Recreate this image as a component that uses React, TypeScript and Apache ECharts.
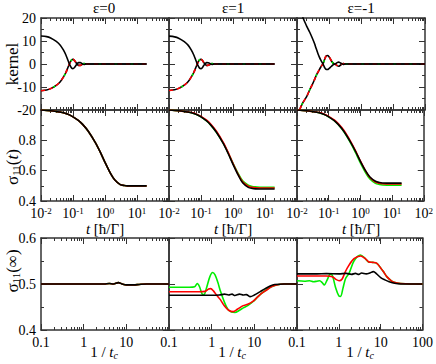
import React, { useEffect, useRef } from "react";
import * as echarts from "echarts";

// ---------- texts ----------
const columnTitles = ["ε=0", "ε=1", "ε=-1"];

// ---------- top row: kernel vs t ----------
const tKernel = [0.01, 0.015, 0.02, 0.03, 0.04, 0.05, 0.06, 0.07, 0.08, 0.09, 0.1, 0.11, 0.12, 0.135, 0.15, 0.17, 0.19, 0.22, 0.26, 0.3, 0.5, 1, 2, 5, 10, 20];
const kernelUpperE0 = [12.2, 11.9, 11.3, 9.8, 8.2, 6.1, 3.9, 1.5, -0.5, -1.7, -2.0, -1.6, -0.9, 0.1, 0.6, 0.6, 0.2, -0.2, 0, 0, 0, 0, 0, 0, 0, 0];
const kernelLowerE0 = [-11.6, -11.3, -10.7, -9.3, -7.7, -5.7, -3.7, -1.4, 0.5, 1.7, 2.0, 1.6, 0.9, -0.1, -0.6, -0.6, -0.2, 0.2, 0, 0, 0, 0, 0, 0, 0, 0];
const kernelUpperE1 = [12.1, 11.8, 11.2, 9.7, 8.1, 6.0, 3.8, 1.4, -0.6, -1.8, -2.0, -1.6, -0.8, 0.1, 0.6, 0.5, 0.2, -0.2, 0, 0, 0, 0, 0, 0, 0, 0];
const kernelLowerE1 = [-11.5, -11.2, -10.6, -9.2, -7.6, -5.6, -3.6, -1.3, 0.6, 1.8, 2.0, 1.6, 0.8, -0.1, -0.6, -0.5, -0.2, 0.2, 0, 0, 0, 0, 0, 0, 0, 0];
const tKernelM1 = [0.01, 0.012, 0.015, 0.02, 0.025, 0.03, 0.035, 0.04, 0.045, 0.05, 0.055, 0.06, 0.065, 0.07, 0.075, 0.08, 0.09, 0.1, 0.11, 0.12, 0.13, 0.14, 0.155, 0.18, 0.2, 0.22, 0.25, 0.28, 0.32, 0.4, 0.5, 1, 2, 5, 10, 20, 50, 100];
const kernelUpperM1 = [28, 25, 20.5, 16.5, 13.8, 11.3, 9, 6.6, 4.6, 3.0, 1.8, 0.8, 0, -1.0, -1.8, -2.3, -2.4, -2.0, -1.5, -1.0, -0.5, -0.2, 0, 0.6, 0.8, 0.6, 0.1, -0.2, 0, 0, 0, 0, 0, 0, 0, 0, 0, 0];
const kernelLowerM1 = [-23, -20, -17, -14.2, -11.2, -9, -6.9, -5, -3.6, -2.4, -1.4, -0.6, 0, 1.3, 2.5, 3.3, 3.7, 3.2, 2.2, 1.3, 0.6, 0.2, 0, -0.7, -1.0, -0.7, -0.1, 0.2, 0, 0, 0, 0, 0, 0, 0, 0, 0, 0];

// ---------- middle row: sigma11(t) ----------
const tSigma = [0.01, 0.02, 0.03, 0.05, 0.07, 0.1, 0.15, 0.2, 0.3, 0.5, 0.7, 1, 1.5, 2, 3, 4, 5, 7, 10, 15, 20];
const sigmaE0 = [1.0, 0.995, 0.99, 0.982, 0.972, 0.955, 0.93, 0.905, 0.86, 0.785, 0.725, 0.655, 0.58, 0.54, 0.508, 0.502, 0.5, 0.5, 0.5, 0.5, 0.5];
const sigmaE1Black = [1.0, 0.995, 0.99, 0.982, 0.972, 0.955, 0.928, 0.902, 0.855, 0.778, 0.715, 0.642, 0.565, 0.52, 0.49, 0.483, 0.48, 0.479, 0.479, 0.479, 0.479];
const sigmaE1Red = [1.0, 0.995, 0.99, 0.983, 0.974, 0.958, 0.933, 0.908, 0.862, 0.785, 0.722, 0.648, 0.57, 0.526, 0.497, 0.49, 0.487, 0.486, 0.486, 0.486, 0.486];
const sigmaE1Green = [1.0, 0.995, 0.99, 0.982, 0.972, 0.955, 0.928, 0.902, 0.855, 0.78, 0.718, 0.648, 0.575, 0.533, 0.505, 0.496, 0.493, 0.491, 0.49, 0.49, 0.49];
const sigmaM1Black = [1.0, 0.995, 0.99, 0.982, 0.972, 0.955, 0.93, 0.905, 0.86, 0.785, 0.728, 0.662, 0.595, 0.558, 0.53, 0.522, 0.519, 0.518, 0.518, 0.518, 0.518];
const sigmaM1Red = [1.0, 0.995, 0.99, 0.983, 0.974, 0.958, 0.934, 0.91, 0.866, 0.79, 0.732, 0.664, 0.594, 0.555, 0.525, 0.517, 0.514, 0.513, 0.512, 0.512, 0.512];
const sigmaM1Green = [1.0, 0.995, 0.99, 0.982, 0.972, 0.955, 0.93, 0.904, 0.858, 0.78, 0.72, 0.652, 0.583, 0.545, 0.516, 0.509, 0.506, 0.505, 0.505, 0.505, 0.505];

// ---------- bottom row: sigma11(inf) vs 1/tc ----------
const sinfE0: number[][] = [[0.1, 0.5], [1, 0.5], [3, 0.5], [4, 0.501], [5, 0.5], [6.5, 0.503], [8, 0.5], [10, 0.498], [15, 0.498], [20, 0.499], [30, 0.5], [100, 0.5]];
const sinfE1Green: number[][] = [[0.1, 0.493], [0.2, 0.493], [0.3, 0.493], [0.4, 0.494], [0.46, 0.501], [0.52, 0.494], [0.6, 0.478], [0.66, 0.477], [0.75, 0.49], [0.9, 0.515], [1.05, 0.525], [1.2, 0.52], [1.4, 0.503], [1.6, 0.485], [2, 0.46], [2.5, 0.443], [3.5, 0.438], [4.5, 0.443], [5.5, 0.448], [7, 0.453], [9.4, 0.462], [12, 0.472], [15, 0.48], [19.5, 0.488], [25, 0.494], [33, 0.498], [50, 0.5], [100, 0.5]];
const sinfE1Red: number[][] = [[0.1, 0.483], [0.3, 0.483], [0.5, 0.483], [0.7, 0.484], [0.85, 0.489], [0.95, 0.49], [1.1, 0.485], [1.3, 0.476], [1.6, 0.466], [2, 0.452], [2.5, 0.443], [3.2, 0.44], [4, 0.445], [5.5, 0.453], [7, 0.456], [9.4, 0.463], [12, 0.472], [15, 0.48], [19.5, 0.487], [25, 0.494], [33, 0.498], [50, 0.5], [100, 0.5]];
const sinfE1Black: number[][] = [[0.1, 0.4755], [0.5, 0.4755], [1, 0.4755], [1.5, 0.476], [2, 0.478], [2.5, 0.476], [3, 0.478], [3.5, 0.475], [4.5, 0.478], [5.5, 0.476], [6.5, 0.477], [8, 0.4725], [10, 0.476], [13.5, 0.483], [18, 0.49], [23.5, 0.4957], [30, 0.499], [50, 0.5], [100, 0.5]];
const sinfM1Black: number[][] = [[0.1, 0.522], [0.3, 0.522], [0.5, 0.5225], [1, 0.522], [1.5, 0.523], [2, 0.521], [2.5, 0.523], [3, 0.521], [3.5, 0.524], [4.5, 0.522], [5.5, 0.524], [6.7, 0.527], [8, 0.522], [10, 0.514], [12.6, 0.509], [16, 0.505], [21.5, 0.5015], [30, 0.5], [100, 0.5]];
const sinfM1Red: number[][] = [[0.1, 0.5175], [0.3, 0.5175], [0.5, 0.5175], [0.7, 0.516], [0.85, 0.51], [1.02, 0.507], [1.2, 0.511], [1.4, 0.525], [1.75, 0.541], [2.3, 0.555], [3.3, 0.561], [4.2, 0.556], [5.1, 0.5485], [6.5, 0.547], [8.1, 0.545], [10, 0.535], [11.6, 0.527], [14, 0.516], [18, 0.507], [22, 0.503], [30, 0.501], [50, 0.5], [100, 0.5]];
const sinfM1Green: number[][] = [[0.1, 0.507], [0.15, 0.506], [0.2, 0.507], [0.25, 0.505], [0.3, 0.506], [0.35, 0.507], [0.4, 0.503], [0.45, 0.498], [0.52, 0.508], [0.6, 0.52], [0.65, 0.522], [0.72, 0.515], [0.85, 0.49], [1.0, 0.474], [1.1, 0.473], [1.25, 0.49], [1.45, 0.512], [1.75, 0.523], [2.3, 0.55], [3.3, 0.563], [4.2, 0.556], [5.1, 0.548], [6.5, 0.547], [8.1, 0.545], [10, 0.535], [11.6, 0.527], [14, 0.516], [18, 0.507], [22, 0.503], [30, 0.501], [50, 0.5], [100, 0.5]];

// ---------- axis ticks ----------
const decadesT = [0.01, 0.1, 1, 10, 100];
const decadesTc = [0.1, 1, 10, 100];
const minorMultipliers = [2, 3, 4, 5, 6, 7, 8, 9];

// ---------- styling / layout ----------
const FONT = "Liberation Serif";
const AX = "#333";
const BLACK = "#000000";
const RED = "#ff0000";
const GREEN = "#00ee00";
const colLeft = [41, 169, 297];
const colWidth = 128;
const rowTop = [18, 110, 238];
const rowHeight = [92, 91, 92];

function zip(xs: number[], ys: number[]) {
  return xs.map((x, i) => [x, ys[i]]);
}

function minorValues(decades: number[]) {
  const out: number[] = [];
  for (let i = 0; i < decades.length - 1; i++) {
    for (const m of minorMultipliers) out.push(+(decades[i] * m).toPrecision(6));
  }
  return out;
}

function buildOption() {
  const grid: any[] = [];
  const xAxis: any[] = [];
  const yAxis: any[] = [];
  const series: any[] = [];
  const yRanges = [
    { min: -20, max: 20, interval: 10 },
    { min: 0.4, max: 1.0, interval: 0.2 },
    { min: 0.4, max: 0.6, interval: 0.1 },
  ];
  const dataAxisIndex: number[] = [];

  for (let row = 0; row < 3; row++) {
    for (let col = 0; col < 3; col++) {
      const gi = row * 3 + col;
      grid.push({ left: colLeft[col], top: rowTop[row], width: colWidth, height: rowHeight[row], containLabel: false });
      const decades = row < 2 ? decadesT : decadesTc;
      const xMin = decades[0];
      const minors = minorValues(decades);
      dataAxisIndex.push(xAxis.length);
      for (const pos of ["bottom", "top"]) {
        const isBottom = pos === "bottom";
        xAxis.push({
          type: "log",
          logBase: 10,
          gridIndex: gi,
          position: pos,
          min: xMin,
          max: 100,
          axisLine: { show: true, onZero: false, lineStyle: { color: AX, width: 1.5 } },
          axisTick: { show: true, inside: true, length: 6, customValues: decades, lineStyle: { color: AX, width: 1 } },
          minorTick: { show: false },
          splitLine: { show: false },
          axisLabel: {
            show: isBottom && row > 0,
            customValues: col === 2 ? decades : decades.slice(0, -1),
            margin: 5,
            color: "#000",
            fontFamily: FONT,
            fontSize: 14,
            formatter: (v: number) => {
              const e = Math.round(Math.log10(v));
              if (row === 1) return `{b|10}{s|${e}}`;
              return e < 0 ? "0.1" : String(Math.pow(10, e));
            },
            rich: {
              b: { fontFamily: FONT, fontSize: 14, color: "#000" },
              s: { fontFamily: FONT, fontSize: 9, color: "#000", verticalAlign: "top", lineHeight: 10 },
            },
          },
        });
        xAxis.push({
          type: "log",
          logBase: 10,
          gridIndex: gi,
          position: pos,
          min: xMin,
          max: 100,
          axisLine: { show: false, onZero: false },
          axisTick: { show: true, inside: true, length: 3, customValues: minors, lineStyle: { color: AX, width: 1 } },
          splitLine: { show: false },
          axisLabel: { show: false },
        });
      }
      const yr = yRanges[row];
      for (const pos of ["left", "right"]) {
        const isLeft = pos === "left";
        yAxis.push({
          type: "value",
          gridIndex: gi,
          position: pos,
          min: yr.min,
          max: yr.max,
          interval: yr.interval,
          axisLine: { show: true, onZero: false, lineStyle: { color: AX, width: 1.5 } },
          axisTick: { show: true, inside: true, length: 6, lineStyle: { color: AX, width: 1 } },
          minorTick: { show: true, splitNumber: 2, length: 3, lineStyle: { color: AX, width: 1 } },
          splitLine: { show: false },
          axisLabel: {
            show: isLeft && col === 0,
            showMaxLabel: row !== 1,
            margin: 5,
            color: "#000",
            fontFamily: FONT,
            fontSize: 14,
            formatter: (v: number) => (row === 0 ? String(Math.round(v)) : v.toFixed(1)),
          },
        });
      }
    }
  }

  const line = (gi: number, data: number[][], color: string, z: number, extra: any = {}) => ({
    type: "line",
    xAxisIndex: dataAxisIndex[gi],
    yAxisIndex: gi * 2,
    data,
    symbol: "none",
    showSymbol: false,
    smooth: 0.3,
    silent: true,
    z,
    lineStyle: { color, width: 1.6, ...extra },
  });

  const kernels = [
    [tKernel, kernelUpperE0, kernelLowerE0],
    [tKernel, kernelUpperE1, kernelLowerE1],
    [tKernelM1, kernelUpperM1, kernelLowerM1],
  ];
  kernels.forEach(([t, up, lo], col) => {
    const gi = col;
    const upper = zip(t, up);
    const lower = zip(t, lo);
    series.push(line(gi, lower, BLACK, 2));
    series.push(line(gi, lower, RED, 3, { type: [4, 4] }));
    series.push(line(gi, lower, GREEN, 4, { type: [2, 14], dashOffset: 3 }));
    series.push(line(gi, upper, BLACK, 5));
  });

  const sigmas = [
    [sigmaE0, sigmaE0, sigmaE0],
    [sigmaE1Green, sigmaE1Red, sigmaE1Black],
    [sigmaM1Green, sigmaM1Red, sigmaM1Black],
  ];
  sigmas.forEach(([g, r, b], col) => {
    const gi = 3 + col;
    series.push(line(gi, zip(tSigma, g), GREEN, 2));
    series.push(line(gi, zip(tSigma, r), RED, 3));
    series.push(line(gi, zip(tSigma, b), BLACK, 4));
  });

  const sinfs = [
    [sinfE0, sinfE0, sinfE0],
    [sinfE1Green, sinfE1Red, sinfE1Black],
    [sinfM1Green, sinfM1Red, sinfM1Black],
  ];
  sinfs.forEach(([g, r, b], col) => {
    const gi = 6 + col;
    series.push(line(gi, g, GREEN, 2));
    series.push(line(gi, r, RED, 3));
    series.push(line(gi, b, BLACK, 4));
  });

  const txt = (x: number, y: number, text: string, size: number, rotate = false, rich?: any) => ({
    type: "text",
    x,
    y,
    rotation: rotate ? Math.PI / 2 : 0,
    silent: true,
    style: {
      text,
      fill: "#000",
      fontFamily: FONT,
      fontSize: size,
      align: "center",
      verticalAlign: "middle",
      rich,
    },
  });

  const richSig = {
    a: { fontFamily: FONT, fontSize: 17, color: "#000" },
    i: { fontFamily: FONT, fontSize: 17, fontStyle: "italic", color: "#000" },
    s: { fontFamily: FONT, fontSize: 11, color: "#000", verticalAlign: "bottom", padding: [8, 0, 0, 0] },
  };
  const richX = {
    a: { fontFamily: FONT, fontSize: 15, color: "#000" },
    i: { fontFamily: FONT, fontSize: 15, fontStyle: "italic", color: "#000" },
    s: { fontFamily: FONT, fontSize: 10, fontStyle: "italic", color: "#000", verticalAlign: "bottom", padding: [7, 0, 0, 0] },
  };

  const graphic: any[] = [
    txt(104, 8, columnTitles[0], 15),
    txt(233, 8, columnTitles[1], 15),
    txt(361, 8, columnTitles[2], 15),
    txt(12, 64, "kernel", 17, true),
    txt(12, 167, "{a|σ}{s|11}{a|(}{i|t}{a|)}", 17, true, richSig),
    txt(12, 271, "{a|σ}{s|11}{a|(∞)}", 17, true, richSig),
  ];
  for (let col = 0; col < 3; col++) {
    const cx = colLeft[col] + colWidth / 2;
    graphic.push(txt(cx, 229, "{i|t}{a| [ħ/Γ]}", 15, false, richX));
    graphic.push(txt(cx - 1, 352, "{a|1 / }{i|t}{s|c}", 15, false, richX));
  }

  return { animation: false, backgroundColor: "#fff", textStyle: { fontFamily: FONT }, grid, xAxis, yAxis, series, graphic };
}

export default function App() {
  const ref = useRef<HTMLDivElement>(null);
  useEffect(() => {
    if (!ref.current) return;
    const chart = echarts.init(ref.current, undefined, { renderer: "svg" });
    chart.setOption(buildOption() as any);
    return () => chart.dispose();
  }, []);
  return <div ref={ref} style={{ position: "fixed", left: 0, top: 0, width: 436, height: 364, background: "#fff" }} />;
}
